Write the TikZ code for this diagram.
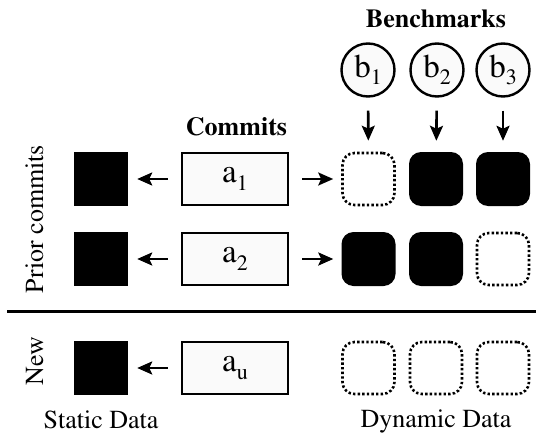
\documentclass[tikz,border=0pt]{standalone}
\usepackage[T1]{fontenc}
\usepackage{times}
\usetikzlibrary{arrows.meta}
\newcommand\lblsub[2]{#1\raisebox{-7.5pt}{\fontsize{22}{22}\selectfont #2}}
\tikzset{
  blk/.style={fill=black, minimum size=54pt, inner sep=0pt},
  cbox/.style={draw, line width=2.6pt, fill=gray!4, minimum width=106pt, minimum height=52pt, inner sep=0pt, font=\fontsize{33}{36}\selectfont},
  dyn/.style={rounded corners=12pt, inner sep=0pt},
  dfull/.style={dyn, fill=black, minimum size=54pt},
  dempty/.style={dyn, draw, line width=2.6pt, dash pattern=on 2.4pt off 2.2pt, minimum size=52pt},
  bench/.style={circle, draw, line width=2.4pt, fill=gray!4, minimum size=53pt, inner sep=0pt, font=\fontsize{33}{36}\selectfont},
  arr/.style={-{Stealth[length=15pt,width=13pt,inset=3pt]}, line width=2.6pt},
  lab/.style={font=\fontsize{26}{30}\selectfont, inner sep=0pt, anchor=base},
  blab/.style={lab, font=\fontsize{26}{30}\selectfont\bfseries},
}
\begin{document}
\begin{tikzpicture}[x=1pt,y=-1pt]
\useasboundingbox (0,0) rectangle (536,434);
% titles
\node[blab] (tb) at (436,27) {Benchmarks};
\node[blab] (tc) at (236.5,135) {Commits};
\node[lab, rotate=90] (tp) at (43,219) {Prior commits};
\node[lab, rotate=90] (tn) at (43,361) {New};
\node[lab] (ts) at (101,428) {Static Data};
\node[lab] (td) at (436,427) {Dynamic Data};
% benchmarks
\node[bench] (b1) at (368,70) {\lblsub{b}{1}};
\node[bench] (b2) at (437,70) {\lblsub{b}{2}};
\node[bench] (b3) at (503,70) {\lblsub{b}{3}};
% static squares
\node[blk] (s1) at (101,179) {};
\node[blk] (s2) at (101,259) {};
\node[blk] (su) at (101,368) {};
% commits
\node[cbox] (a1) at (235,179) {\lblsub{a}{1}};
\node[cbox] (a2) at (235,259) {\lblsub{a}{2}};
\node[cbox] (au) at (235,368) {\lblsub{a}{u}};
% dynamic data
\node[dempty] (d11) at (368.5,179) {};
\node[dfull]  (d12) at (436,179) {};
\node[dfull]  (d13) at (503,179) {};
\node[dfull]  (d21) at (368.5,259) {};
\node[dfull]  (d22) at (436,259) {};
\node[dempty] (d23) at (503,259) {};
\node[dempty] (du1) at (368.5,368) {};
\node[dempty] (du2) at (436,368) {};
\node[dempty] (du3) at (503,368) {};
% arrows
\draw[arr, shorten <=13pt, shorten >=9pt] (a1) -- (s1);
\draw[arr, shorten <=13pt, shorten >=9pt] (a2) -- (s2);
\draw[arr, shorten <=13pt, shorten >=9pt] (au) -- (su);
\draw[arr, shorten <=13pt, shorten >=8pt] (a1) -- (d11);
\draw[arr, shorten <=13pt, shorten >=8pt] (a2) -- (d21);
\draw[arr, shorten <=13pt, shorten >=11pt] (b1) -- (d11);
\draw[arr, shorten <=13pt, shorten >=11pt] (b2) -- (d12);
\draw[arr, shorten <=13pt, shorten >=11pt] (b3) -- (d13);
% separator
\coordinate (sepL) at (7,311);
\coordinate (sepR) at (536,311);
\draw[line width=3pt] (sepL) -- (sepR);
\end{tikzpicture}
\end{document}
